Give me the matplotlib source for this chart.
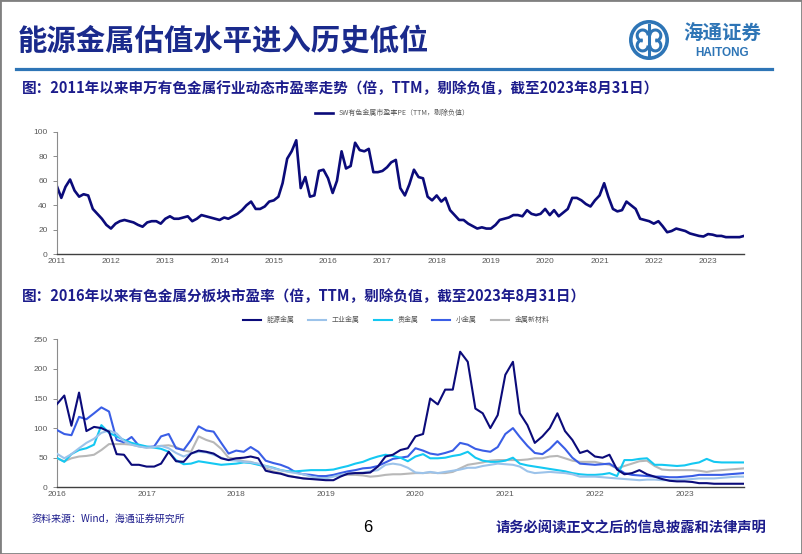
import pandas as pd
import numpy as np
import matplotlib
matplotlib.use("Agg")
import matplotlib.pyplot as plt
import matplotlib.dates as mdates
from matplotlib.patches import Rectangle, Circle, Arc
from matplotlib.lines import Line2D

plt.rcParams['font.family'] = ['Noto Sans CJK SC', 'DejaVu Sans']

# -------------------------
# Data (monthly, plus the 2023-08-31 close)
# -------------------------
sw_pe = [
    56, 46, 55, 61, 52, 47, 49, 48, 37, 33, 29, 24,          # 2011
    21, 25, 27, 28, 27, 26, 24, 22.5, 26, 27, 27, 25,        # 2012
    29, 31, 29, 29, 30, 31, 27, 29, 32, 31, 30, 29,          # 2013
    28, 30, 29, 31, 33, 36, 40, 43, 37, 37, 39, 43,          # 2014
    44, 47, 58, 78, 84, 93, 54, 63, 47, 48, 68, 69,          # 2015
    62, 50, 60, 84, 70, 72, 91, 85, 84, 86, 67, 67,          # 2016
    68, 71, 75, 77, 54, 48, 57, 69, 63, 62, 47, 44,          # 2017
    48, 43, 46, 36, 32, 28, 28, 25, 23, 21, 22, 21,          # 2018
    21, 24, 28, 29, 30, 32, 32, 31, 36, 33, 32, 33,          # 2019
    37, 32, 36, 31, 34, 37, 46, 46, 44, 41, 39, 44,          # 2020
    48, 58, 47, 37, 35, 36, 43, 40, 37, 29, 28, 27,          # 2021
    25, 27, 23, 18, 19, 21, 20, 19, 17, 16, 15, 14.5,        # 2022
    16.5, 16, 15, 15, 14, 14, 14, 14, 15,                    # 2023
]
sw_dates = pd.date_range("2011-01-01", "2023-08-01", freq="MS").append(
    pd.DatetimeIndex(["2023-08-31"]))

energy_metals = [
    140, 155, 104, 160, 95, 102, 100, 94, 56, 55, 38, 38,
    35, 35, 40, 60, 44, 43, 57, 62, 60, 57, 49, 46,
    49, 50, 52, 49, 28, 25, 23, 19, 17, 15, 14, 13,
    12, 12, 18, 23, 24, 24, 25, 35, 52, 55, 63, 66,
    86, 90, 150, 140, 165, 165, 229, 212, 133, 125, 100, 122,
    190, 212, 125, 105, 75, 86, 100, 125, 95, 80, 58, 62,
    52, 50, 55, 30, 22, 24, 29, 22, 18, 14, 11, 10,
    10, 9, 7, 7, 6, 6, 6, 6, 6,
]
industrial_metals = [
    57, 49, 56, 66, 75, 82, 92, 96, 91, 78, 72, 69,
    67, 68, 70, 66, 58, 52, 57, 60, 59, 55, 50, 46,
    45, 43, 42, 40, 36, 32, 29, 26, 24, 22, 18, 16,
    15, 18, 21, 23, 24, 25, 27, 29, 38, 40, 38, 33,
    25, 24, 26, 24, 26, 28, 30, 33, 33, 36, 38, 40,
    39, 38, 35, 27, 24, 25, 26, 25, 24, 22, 18, 18,
    18, 17, 16, 15, 14, 13, 12, 13, 13, 12, 12, 13,
    13, 14, 15, 15, 15, 16, 17, 18, 18,
]
precious_metals = [
    50, 43, 56, 63, 66, 72, 105, 92, 86, 80, 75, 72,
    69, 67, 65, 60, 46, 39, 40, 44, 42, 40, 38, 39,
    40, 42, 41, 38, 36, 33, 29, 27, 27, 28, 29, 29,
    29, 30, 33, 36, 40, 43, 48, 52, 55, 53, 50, 44,
    52, 56, 49, 49, 50, 53, 55, 60, 50, 45, 43, 43,
    45, 50, 40, 37, 35, 33, 31, 29, 27, 24, 22, 21,
    21, 22, 24, 19, 46, 46, 48, 49, 38, 38, 37, 36,
    37, 40, 42, 48, 43, 42, 42, 42, 42,
]
minor_metals = [
    97, 90, 88, 119, 115, 125, 135, 128, 80, 76, 85, 70,
    68, 69, 86, 90, 66, 63, 80, 103, 96, 94, 75, 57,
    62, 60, 68, 60, 45, 41, 38, 33, 25, 22, 21, 19,
    19, 21, 24, 27, 29, 32, 33, 36, 42, 48, 50, 52,
    66, 62, 57, 55, 58, 62, 75, 72, 65, 62, 60, 68,
    90, 100, 85, 70, 58, 56, 65, 78, 65, 50, 40, 39,
    38, 39, 40, 32, 24, 21, 20, 19, 18, 18, 17, 17,
    18, 19, 21, 21, 21, 21, 22, 23, 24,
]
new_materials = [
    49, 44, 49, 52, 53, 55, 63, 73, 73, 73, 72, 69,
    67, 68, 70, 71, 68, 62, 60, 86, 80, 76, 65, 50,
    48, 44, 43, 39, 32, 27, 24, 20, 17, 15, 14, 15,
    17, 19, 21, 21, 21, 20, 18, 19, 21, 22, 22, 23,
    24, 24, 25, 24, 24, 26, 32, 38, 40, 42, 45, 46,
    46, 46, 46, 47, 49, 49, 52, 53, 49, 45, 43, 43,
    43, 40, 38, 32, 36, 40, 44, 45, 36, 30, 29, 29,
    29, 29, 28, 26, 28, 29, 30, 31, 32,
]
sector_dates = pd.date_range("2016-01-01", "2023-08-01", freq="MS").append(
    pd.DatetimeIndex(["2023-08-31"]))

sector_names = ["能源金属", "工业金属", "贵金属", "小金属", "金属新材料"]
sector_values = [energy_metals, industrial_metals, precious_metals, minor_metals, new_materials]
sector_colors = ["#0b0b7a", "#9cc3ea", "#14c8f2", "#3a5ee6", "#b8b8b8"]

top_legend = "SW有色金属市盈率PE（TTM，剔除负值）"
title = "能源金属估值水平进入历史低位"
subtitle_top = "图：2011年以来申万有色金属行业动态市盈率走势（倍，TTM，剔除负值，截至2023年8月31日）"
subtitle_bottom = "图：2016年以来有色金属分板块市盈率（倍，TTM，剔除负值，截至2023年8月31日）"
source_note = "资料来源：Wind，海通证券研究所"
disclaimer = "请务必阅读正文之后的信息披露和法律声明"

NAVY = "#1c1c8c"
W, H = 802, 554


def fx(x):
    return x / W


def fy(y):
    return 1 - y / H


def style_axes(ax):
    for s in ["top", "right"]:
        ax.spines[s].set_visible(False)
    ax.spines["left"].set_color("#8c8c8c")
    ax.spines["bottom"].set_color("#404040")
    ax.spines["bottom"].set_linewidth(1.0)
    ax.tick_params(colors="#8c8c8c", labelcolor="#595959", labelsize=6,
                   length=3, width=0.7, labelfontfamily="Liberation Sans")
    ax.xaxis.set_major_locator(mdates.YearLocator())
    ax.xaxis.set_major_formatter(mdates.DateFormatter("%Y"))
    ax.tick_params(axis="x", length=0, pad=3)


# -------------------------
# Figure / page furniture
# -------------------------
fig = plt.figure(figsize=(8.02, 5.54), dpi=100)

fig.text(fx(18), fy(40), title, fontsize=21.2, fontweight="bold",
         color="#1a2a8c", va="center", ha="left")
fig.add_artist(Line2D([fx(16), fx(772)], [fy(69), fy(69)], color="#2e75b6", lw=2.3))
fig.text(fx(22), fy(88), subtitle_top, fontsize=10.5, fontweight="bold",
         color=NAVY, va="center", ha="left")
fig.text(fx(22), fy(296), subtitle_bottom, fontsize=10.5, fontweight="bold",
         color=NAVY, va="center", ha="left")
fig.text(fx(32), fy(519), source_note, fontsize=7.2, color=NAVY, va="center", ha="left")
fig.text(fx(368), fy(527), "6", fontsize=12, color="black", va="center", ha="center",
         family="Liberation Sans")
fig.text(fx(496), fy(528), disclaimer, fontsize=10.3, fontweight="bold",
         color=NAVY, va="center", ha="left")
fig.add_artist(Rectangle((0, 0), 1, 1, transform=fig.transFigure, fill=False,
                         edgecolor="#808080", lw=2))

# logo
logo_blue = "#2e75b6"
ax_logo = fig.add_axes([fx(629), fy(60), fx(40), 40 / H])
ax_logo.set_xlim(-1.1, 1.1)
ax_logo.set_ylim(-1.1, 1.1)
ax_logo.set_aspect("equal")
ax_logo.axis("off")
ax_logo.add_patch(Circle((0, 0), 1.0, fill=False, edgecolor=logo_blue, lw=2.6))
ax_logo.add_patch(Arc((-0.35, 0.25), 0.6, 0.6, theta1=0, theta2=270, edgecolor=logo_blue, lw=2.2))
ax_logo.add_patch(Arc((0.35, 0.25), 0.6, 0.6, theta1=-90, theta2=180, edgecolor=logo_blue, lw=2.2))
ax_logo.add_patch(Arc((-0.35, -0.3), 0.6, 0.6, theta1=90, theta2=360, edgecolor=logo_blue, lw=2.2))
ax_logo.add_patch(Arc((0.35, -0.3), 0.6, 0.6, theta1=180, theta2=450, edgecolor=logo_blue, lw=2.2))
ax_logo.plot([0, 0], [-0.85, 0.85], color=logo_blue, lw=2.2)
fig.text(fx(722), fy(34), "海通证券", fontsize=14, fontweight="bold", style="italic",
         color=logo_blue, ha="center", va="center")
fig.text(fx(722), fy(53), "HAITONG", fontsize=8.5, fontweight="bold",
         color=logo_blue, ha="center", va="center", family="Liberation Sans")

# -------------------------
# Top chart: SW non-ferrous PE
# -------------------------
ax1 = fig.add_axes([fx(56.7), fy(254.3), fx(744) - fx(56.7), (254.3 - 131.7) / H])
ax1.plot(sw_dates, sw_pe, color="#0b0b7a", lw=1.9, label=top_legend)
ax1.set_xlim(pd.Timestamp("2011-01-01"), pd.Timestamp("2023-08-31"))
ax1.set_ylim(0, 100)
ax1.set_yticks(np.arange(0, 101, 20))
style_axes(ax1)
ax1.legend(loc="center", bbox_to_anchor=(0.488, 1.153), frameon=False,
           fontsize=5, handlelength=2.6, labelcolor="#595959")

# -------------------------
# Bottom chart: sub-sector PE
# -------------------------
ax2 = fig.add_axes([fx(56.7), fy(487.3), fx(744) - fx(56.7), (487.3 - 339.3) / H])
handles = []
for i in reversed(range(len(sector_names))):
    h, = ax2.plot(sector_dates, sector_values[i], color=sector_colors[i], lw=1.5,
                  label=sector_names[i], zorder=3 + (len(sector_names) - i))
    handles.insert(0, h)
ax2.set_xlim(pd.Timestamp("2016-01-01"), pd.Timestamp("2023-08-31"))
ax2.set_ylim(0, 250)
ax2.set_yticks(np.arange(0, 251, 50))
style_axes(ax2)
ax2.legend(handles=handles, loc="center", bbox_to_anchor=(0.494, 1.13), ncol=5,
           frameon=False, fontsize=5, handlelength=2.6, columnspacing=2.0,
           labelcolor="#595959")

plt.savefig("out.png", dpi=100)
